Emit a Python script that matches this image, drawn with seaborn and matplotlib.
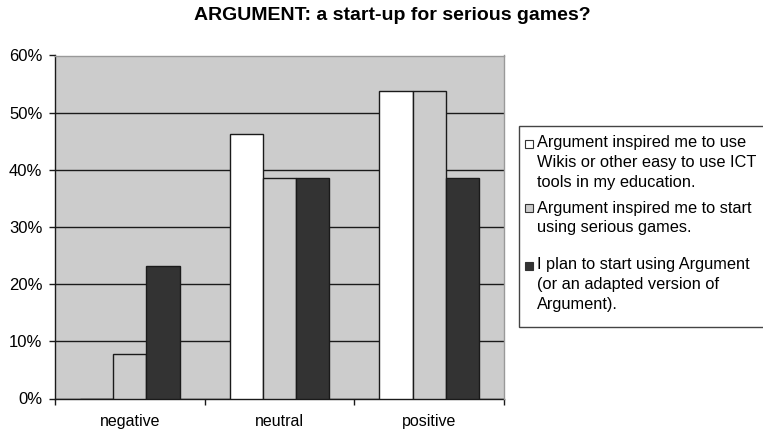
import matplotlib
matplotlib.use("Agg")
import matplotlib.pyplot as plt
from matplotlib.patches import Rectangle
import seaborn as sns
import pandas as pd
from matplotlib.ticker import PercentFormatter

# Survey answers, share of respondents per opinion
categories = ["negative", "neutral", "positive"]
series_labels = [
    "Argument inspired me to use\nWikis or other easy to use ICT\ntools in my education.",
    "Argument inspired me to start\nusing serious games.",
    "I plan to start using Argument\n(or an adapted version of\nArgument).",
]
wiki_tools = [0.0, 0.462, 0.538]
serious_games = [0.077, 0.385, 0.538]
plan_to_use = [0.231, 0.385, 0.385]
y_ticks = [0.0, 0.1, 0.2, 0.3, 0.4, 0.5, 0.6]

rows = []
for label, values in zip(series_labels, [wiki_tools, serious_games, plan_to_use]):
    for cat, v in zip(categories, values):
        rows.append({"opinion": cat, "share": v, "statement": label})
df = pd.DataFrame(rows)

sns.set_style("white")
plt.rcParams["font.family"] = ["Liberation Sans", "DejaVu Sans"]
plt.rcParams["text.color"] = "black"
plt.rcParams["xtick.labelcolor"] = "black"
plt.rcParams["ytick.labelcolor"] = "black"

W, H = 763, 429
fig = plt.figure(figsize=(W / 100, H / 100), dpi=100)
ax = fig.add_axes([55 / W, 30.5 / H, 449 / W, 343 / H])
ax.set_facecolor("#cccccc")

palette = ["#ffffff", "#cccccc", "#333333"]
sns.barplot(data=df, x="opinion", y="share", hue="statement", order=categories,
            hue_order=series_labels, palette=palette, width=2 / 3, gap=0,
            edgecolor="#1a1a1a", linewidth=1.0, saturation=1, ax=ax, zorder=3,
            legend=False)

ax.set_xlim(-0.5, 2.5)
ax.set_ylim(0, 0.6)
ax.set_yticks(y_ticks)
ax.yaxis.set_major_formatter(PercentFormatter(1.0, decimals=0))
ax.yaxis.grid(True, color="#1a1a1a", linewidth=1.0)
ax.set_axisbelow(True)

# Category boundaries get the tick marks, names sit centred below
ax.set_xticks([-0.5, 0.5, 1.5, 2.5])
ax.set_xticklabels([])
ax.set_xticks([0, 1, 2], minor=True)
ax.set_xticklabels(categories, minor=True)
ax.tick_params(axis="x", which="major", direction="out", length=4, width=1,
               color="#1a1a1a", bottom=True)
ax.tick_params(axis="x", which="minor", length=0, pad=11.5, labelsize=11.5,
               labelcolor="black")
ax.tick_params(axis="y", direction="out", length=4, width=1, color="#1a1a1a",
               left=True, pad=5, labelsize=12, labelcolor="black")

ax.set_xlabel("")
ax.set_ylabel("")

for side in ["left", "bottom"]:
    ax.spines[side].set_color("#1a1a1a")
    ax.spines[side].set_linewidth(1.0)
for side in ["top", "right"]:
    ax.spines[side].set_color("#999999")
    ax.spines[side].set_linewidth(1.0)
    ax.spines[side].set_zorder(4)

# Legend box to the right: square key aligned with the first line of each entry
def px(x, y):
    return x / W, 1 - y / H

x0, y0 = px(519, 327)
fig.patches.append(Rectangle((x0, y0), (790 - 519) / W, (327 - 126) / H,
                             transform=fig.transFigure, facecolor="white",
                             edgecolor="#444444", linewidth=1.0, zorder=1))
first_line_y = [143, 208, 265]
line_step = 19.5
for label, color, yc in zip(series_labels, palette, first_line_y):
    kx, ky = px(525, yc + 4.5)
    fig.patches.append(Rectangle((kx, ky), 8 / W, 8 / H, transform=fig.transFigure,
                                 facecolor=color, edgecolor="#333333",
                                 linewidth=0.8, zorder=2))
    for i, line in enumerate(label.split("\n")):
        tx, ty = px(537, yc + i * line_step)
        fig.text(tx, ty, line, ha="left", va="center", fontsize=11.8,
                 color="black", zorder=3)

fig.text(392 / W, 1 - 15.5 / H, "ARGUMENT: a start-up for serious games?",
         ha="center", va="center", fontsize=14, fontweight="bold", color="black")

fig.savefig("out.png", dpi=100)
